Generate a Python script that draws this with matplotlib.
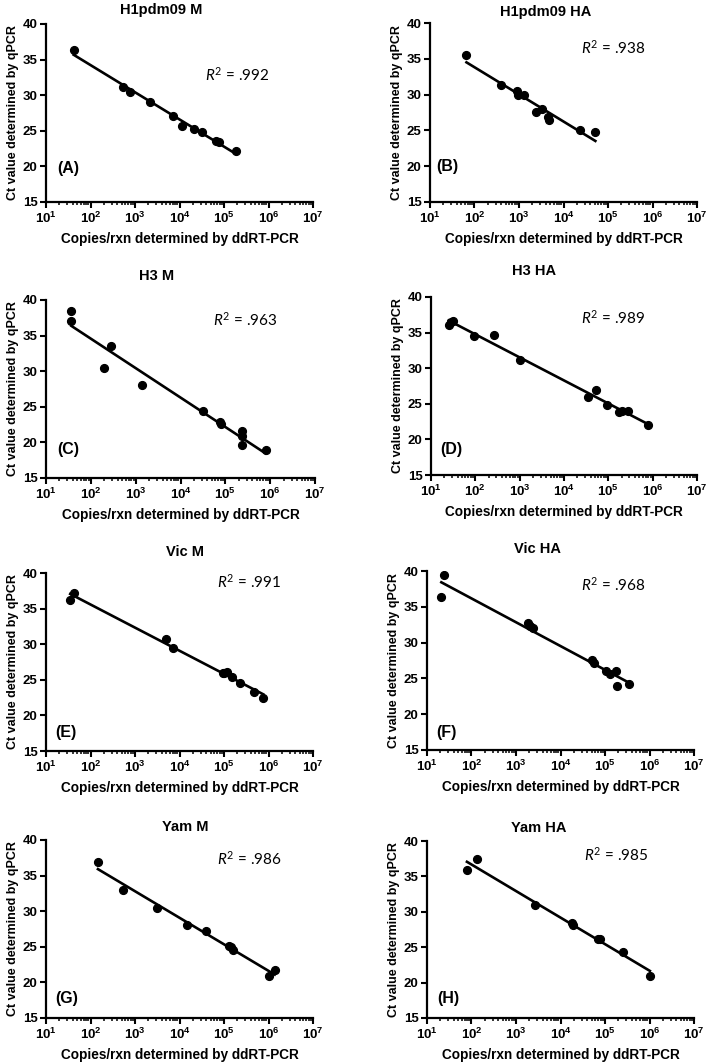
import matplotlib

matplotlib.use("Agg")
import matplotlib.pyplot as plt
import numpy as np
from matplotlib.ticker import FixedLocator, FuncFormatter, NullFormatter

plt.rcParams["font.family"] = ["Liberation Sans", "DejaVu Sans"]
plt.rcParams["mathtext.fontset"] = "custom"
plt.rcParams["mathtext.bf"] = "Liberation Sans:bold"
plt.rcParams["mathtext.rm"] = "Liberation Sans:bold"
plt.rcParams["mathtext.it"] = "Lato:italic"
plt.rcParams["mathtext.sf"] = "Lato"

# ---- data (copies/rxn, Ct) ----
TITLES = ["H1pdm09 M", "H1pdm09 HA", "H3 M", "H3 HA",
          "Vic M", "Vic HA", "Yam M", "Yam HA"]
LETTERS = ["(A)", "(B)", "(C)", "(D)", "(E)", "(F)", "(G)", "(H)"]
R2 = [".992", ".938", ".963", ".989", ".991", ".968", ".986", ".985"]

a_x = [42, 550, 760, 2200, 7200, 11500, 21000, 32000, 66000, 76000, 185000]
a_y = [36.3, 31.2, 30.4, 29.1, 27.1, 25.7, 25.3, 24.9, 23.55, 23.4, 22.1]

b_x = [66, 390, 910, 940, 1320, 2350, 3300, 4450, 4700, 24000, 52000]
b_y = [35.5, 31.35, 30.5, 29.95, 29.9, 27.6, 28.05, 26.9, 26.4, 25.1, 24.8]

c_x = [37, 37, 280, 200, 1350, 32500, 76000, 79000, 235000, 235000, 230000, 790000]
c_y = [38.4, 37.0, 33.6, 30.5, 28.0, 24.4, 22.9, 22.65, 21.6, 20.9, 19.6, 18.9]

d_x = [25, 28, 32, 92, 270, 1020, 35500, 52000, 93000, 177000, 200000, 275000, 780000]
d_y = [36.1, 36.45, 36.6, 34.5, 34.7, 31.1, 25.95, 26.9, 24.8, 23.9, 24.0, 24.0, 22.0]

e_x = [35, 43, 4900, 7000, 93000, 100000, 115000, 155000, 230000, 480000, 760000]
e_y = [36.25, 37.2, 30.8, 29.4, 26.0, 25.9, 26.1, 25.4, 24.5, 23.3, 22.5]

f_x = [21, 23.5, 1900, 2050, 2350, 50000, 56000, 105000, 130000, 173000, 183000, 355000]
f_y = [36.4, 39.4, 32.7, 32.3, 32.0, 27.6, 27.1, 26.0, 25.6, 26.0, 24.0, 24.15]

g_x = [147, 550, 3100, 15000, 39000, 128000, 143000, 163000, 1.0e6, 1.38e6]
g_y = [36.9, 33.0, 30.5, 28.0, 27.2, 25.1, 24.95, 24.6, 20.9, 21.8]

h_x = [79, 133, 2700, 17700, 18700, 68000, 78000, 250000, 1.02e6]
h_y = [35.9, 37.4, 31.0, 28.4, 28.2, 26.1, 26.2, 24.3, 21.0]

SERIES_X = [a_x, b_x, c_x, d_x, e_x, f_x, g_x, h_x]
SERIES_Y = [a_y, b_y, c_y, d_y, e_y, f_y, g_y, h_y]

X_DECADES = [1, 2, 3, 4, 5, 6, 7]
Y_TICKS = [15, 20, 25, 30, 35, 40]

# ---- layout (pixels in a 709x1064 canvas) ----
W, H = 709, 1064
# axes boxes: left, top, right, bottom
BOXES = [(46, 24, 313, 202), (430, 23, 697, 202),
         (46, 300, 315, 478), (431, 297, 697, 475),
         (46, 573, 313, 751), (427, 571, 694, 750),
         (46, 840, 313, 1018), (427, 841, 694, 1018)]
TITLE_POS = [(161, 10), (546, 12), (157, 276), (534, 271),
             (185, 552), (537, 549), (185, 827), (539, 828)]
R2_POS = [(205, 75), (581, 48), (213, 320), (581, 318),
          (217, 582), (581, 585), (217, 859), (584, 855)]
LETTER_POS = [(57, 168), (436, 167), (57, 449), (440, 449),
              (55, 732), (436, 732), (55, 998), (437, 998)]

major_x = [10.0 ** d for d in X_DECADES]
minor_x = [m * 10.0 ** d for d in X_DECADES[:-1] for m in range(2, 10)]

fig = plt.figure(figsize=(W / 100, H / 100), dpi=100)


def px(x, y):
    return x / W, 1 - y / H


for i in range(8):
    l, t, r, b = BOXES[i]
    ax = fig.add_axes([l / W, 1 - b / H, (r - l) / W, (b - t) / H])
    xs = np.array(SERIES_X[i], dtype=float)
    ys = np.array(SERIES_Y[i], dtype=float)
    ax.plot(xs, ys, "o", color="black", markersize=5.6, zorder=3)
    k, c0 = np.polyfit(np.log10(xs), ys, 1)
    lx = np.array([np.log10(xs.min()), np.log10(xs.max())])
    ax.plot(10 ** lx, k * lx + c0, color="black", lw=1.9, zorder=2)

    ax.set_xscale("log")
    ax.set_xlim(10, 1e7)
    ax.set_ylim(15, 40)
    ax.yaxis.set_major_locator(FixedLocator(Y_TICKS))
    ax.xaxis.set_major_locator(FixedLocator(major_x))
    ax.xaxis.set_minor_locator(FixedLocator(minor_x))
    ax.xaxis.set_minor_formatter(NullFormatter())
    ax.xaxis.set_major_formatter(FuncFormatter(
        lambda v, p: r"$\mathbf{10^{%d}}$" % round(np.log10(v))))
    ax.yaxis.set_major_formatter(FuncFormatter(lambda v, p: "%d" % v))
    for s in ("top", "right"):
        ax.spines[s].set_visible(False)
    for s in ("left", "bottom"):
        ax.spines[s].set_linewidth(1.6)
    ax.tick_params(which="major", direction="out", length=4, width=1.5,
                   labelsize=9.5, pad=2)
    ax.tick_params(which="minor", direction="out", length=2.5, width=1.1)
    for lab in ax.get_yticklabels():
        lab.set_fontweight("bold")
    ax.set_xlabel("Copies/rxn determined by ddRT-PCR", fontsize=9.8,
                  fontweight="bold", labelpad=5)
    ax.set_ylabel("Ct value determined by qPCR", fontsize=9.0,
                  fontweight="bold")
    ax.yaxis.set_label_coords(-0.1, 0.5)

    fig.text(*px(*TITLE_POS[i]), TITLES[i], ha="center", va="center",
             fontsize=10.5, fontweight="bold")
    fig.text(*px(*R2_POS[i]), r"$\mathit{R}^{\mathsf{2}}$ = " + R2[i],
             ha="left", va="center", fontsize=11, family="Lato")
    fig.text(*px(*LETTER_POS[i]), LETTERS[i], ha="left", va="center",
             fontsize=11.5, fontweight="bold")

fig.savefig("out.png", dpi=100)
